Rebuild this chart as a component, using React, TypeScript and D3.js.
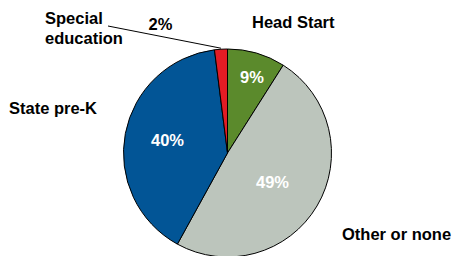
import React from "react";
import * as d3 from "d3";

const categories = ["Head Start", "Other or none", "State pre-K", "Special education"];
const values = [9, 49, 40, 2];
const valueLabels = ["9%", "49%", "40%", "2%"];
const colors = ["#5B8A2C", "#BCC5BC", "#025596", "#E31C24"];

export default function App() {
  const W = 455, H = 256;
  const cx = 227.5, cy = 153, r = 104;
  const pie = d3.pie<number>().sort(null).value((d) => d)(values);
  const arc = d3.arc<d3.PieArcDatum<number>>().innerRadius(0).outerRadius(r);
  const labelArc = d3.arc<d3.PieArcDatum<number>>().innerRadius(r * 0.6).outerRadius(r * 0.6);
  const font = "'Liberation Sans', Arial, sans-serif";
  const sp = pie[3];
  const spMid = (sp.startAngle + sp.endAngle) / 2;
  const edge = [cx + Math.sin(spMid) * r, cy - Math.cos(spMid) * r];
  const inside = [
    { i: 0, x: 252, y: 83 },
    { i: 1, x: 272.5, y: 188 },
    { i: 2, x: 167.5, y: 146 },
  ];
  return (
    <svg width={W} height={H} style={{ position: "absolute", left: 0, top: 0 }}>
      <rect width={W} height={H} fill="#fff" />
      <g transform={`translate(${cx},${cy})`}>
        {pie.map((p, i) => (
          <path key={i} d={arc(p) || ""} fill={colors[i]} stroke="#000" strokeWidth={1} />
        ))}
      </g>
      {inside.map((l) => (
        <text key={l.i} x={l.x} y={l.y} textAnchor="middle" fill="#fff" fontFamily={font} fontWeight="bold" fontSize={16.5}>
          {valueLabels[l.i]}
        </text>
      ))}
      <text x={160.5} y={30} textAnchor="middle" fill="#000" fontFamily={font} fontWeight="bold" fontSize={16.5}>
        {valueLabels[3]}
      </text>
      <line x1={108} y1={26} x2={edge[0]} y2={edge[1] - 1} stroke="#000" strokeWidth={1} />
      <text fontFamily={font} fontWeight="bold" fontSize={16.5} fill="#000">
        <tspan x={45} y={24}>Special</tspan>
        <tspan x={45} y={44}>education</tspan>
      </text>
      <text x={252} y={28} fontFamily={font} fontWeight="bold" fontSize={16.5} fill="#000">{categories[0]}</text>
      <text x={9} y={114} fontFamily={font} fontWeight="bold" fontSize={16.5} fill="#000">{categories[2]}</text>
      <text x={342} y={240} fontFamily={font} fontWeight="bold" fontSize={16.5} fill="#000">{categories[1]}</text>
    </svg>
  );
}
